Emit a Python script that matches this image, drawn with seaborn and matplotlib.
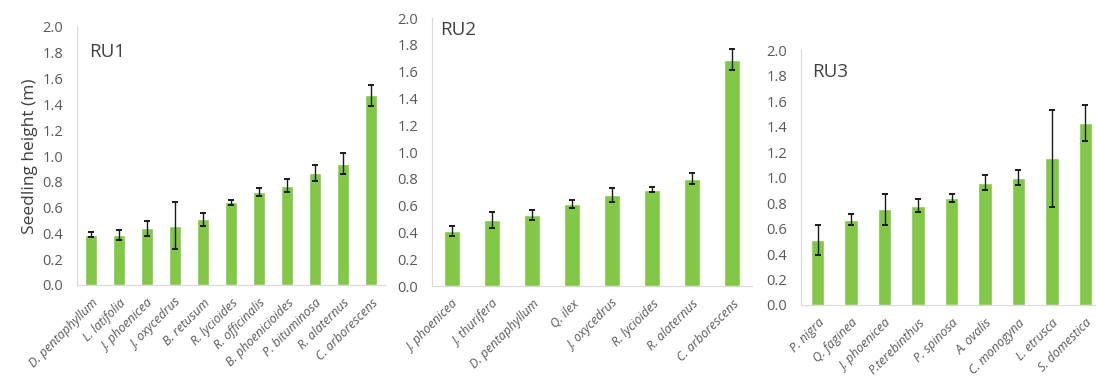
import matplotlib
matplotlib.use("Agg")
import matplotlib.pyplot as plt
import seaborn as sns
import numpy as np
import pandas as pd

# Mean seedling height (m) and error per species, by restoration unit
ru1_species = ["D. pentaphyllum", "L. latifolia", "J. phoenicea", "J. oxycedrus",
               "B. retusum", "R. lycioides", "R. officinalis", "B. phoenicioides",
               "P. bituminosa", "R. alaternus", "C. arborescens"]
ru1_height = [0.39, 0.39, 0.44, 0.46, 0.51, 0.64, 0.72, 0.77, 0.87, 0.94, 1.47]
ru1_err = [0.02, 0.04, 0.06, 0.18, 0.05, 0.02, 0.03, 0.05, 0.06, 0.08, 0.08]

ru2_species = ["J. phoenicea", "J. thurifera", "D. pentaphyllum", "Q. ilex",
               "J. oxycedrus", "R. lycioides", "R. alaternus", "C. arborescens"]
ru2_height = [0.41, 0.49, 0.53, 0.61, 0.68, 0.72, 0.80, 1.69]
ru2_err = [0.04, 0.06, 0.04, 0.03, 0.05, 0.02, 0.04, 0.08]

ru3_species = ["P. nigra", "Q. faginea", "J. phoenicea", "P.terebinthus",
               "P. spinosa", "A. ovalis", "C. monogyna", "L. etrusca", "S. domestica"]
ru3_height = [0.51, 0.67, 0.75, 0.78, 0.84, 0.96, 1.00, 1.15, 1.43]
ru3_err = [0.12, 0.04, 0.12, 0.05, 0.03, 0.06, 0.06, 0.38, 0.14]

panel_titles = ["RU1", "RU2", "RU3"]
y_ticks = [0.0, 0.2, 0.4, 0.6, 0.8, 1.0, 1.2, 1.4, 1.6, 1.8, 2.0]

sns.set_theme(style="white")
plt.rcParams["font.family"] = ["Open Sans", "DejaVu Sans"]

BAR = "#82c745"
GRID = "#d9d9d9"
TXT = "#404040"
TICK = "#595959"

fig = plt.figure(figsize=(10.96, 3.82), dpi=100)
W, H = 1096, 382
# axes boxes in pixels: left, zero-line y, right, top (2.0) y
boxes = [(77, 285, 385, 27), (432, 286, 752, 18), (801, 305, 1102, 50)]
# panel label anchor in pixels (left x, centre y)
title_pos = [(89, 52), (440, 30), (812, 72)]

panels = [(ru1_species, ru1_height, ru1_err),
          (ru2_species, ru2_height, ru2_err),
          (ru3_species, ru3_height, ru3_err)]

for i, ((sp, h, e), (l, b, r, t), title, (tx, ty)) in enumerate(
        zip(panels, boxes, panel_titles, title_pos)):
    ax = fig.add_axes([l / W, 1 - b / H, (r - l) / W, (b - t) / H])
    ax.patch.set_alpha(0)
    df = pd.DataFrame({"species": sp, "height": h, "err": e})
    sns.barplot(data=df, x="species", y="height", color=BAR, saturation=1,
                width=0.4, errorbar=None, ax=ax, zorder=2)
    ax.errorbar(np.arange(len(sp)), df["height"], yerr=df["err"], fmt="none",
                ecolor="#1a1a1a", elinewidth=1.0, capsize=2.5, capthick=1.4, zorder=3)
    ax.set_xlim(-0.5, len(sp) - 0.5)
    ax.set_ylim(0, 2.0)
    ax.set_yticks(y_ticks)
    ax.set_yticklabels([f"{v:.1f}" for v in y_ticks], fontsize=10.5, color=TICK)
    ax.set_xticks(np.arange(len(sp)))
    ax.set_xticklabels(sp, rotation=45, ha="right", rotation_mode="anchor",
                       fontsize=9, style="italic", color=TICK)
    ax.set_xticks(np.arange(len(sp) + 1) - 0.5, minor=True)
    ax.tick_params(axis="x", which="major", length=0, pad=8)
    ax.tick_params(axis="x", which="minor", length=3, color=GRID, width=0.8)
    ax.tick_params(axis="y", which="major", length=3, color=GRID, width=0.8, pad=7)
    ax.set_xlabel("")
    ax.set_ylabel("")
    for s in ["top", "right"]:
        ax.spines[s].set_visible(False)
    for s in ["left", "bottom"]:
        ax.spines[s].set_color(GRID)
        ax.spines[s].set_linewidth(0.8)
    fig.text(tx / W, 1 - ty / H, title, fontsize=13.5, color=TXT,
             ha="left", va="center")
    if i == 0:
        ax.set_ylabel("Seedling height (m)", fontsize=12.5, color=TXT, labelpad=3)

fig.savefig("out.png", dpi=100)
